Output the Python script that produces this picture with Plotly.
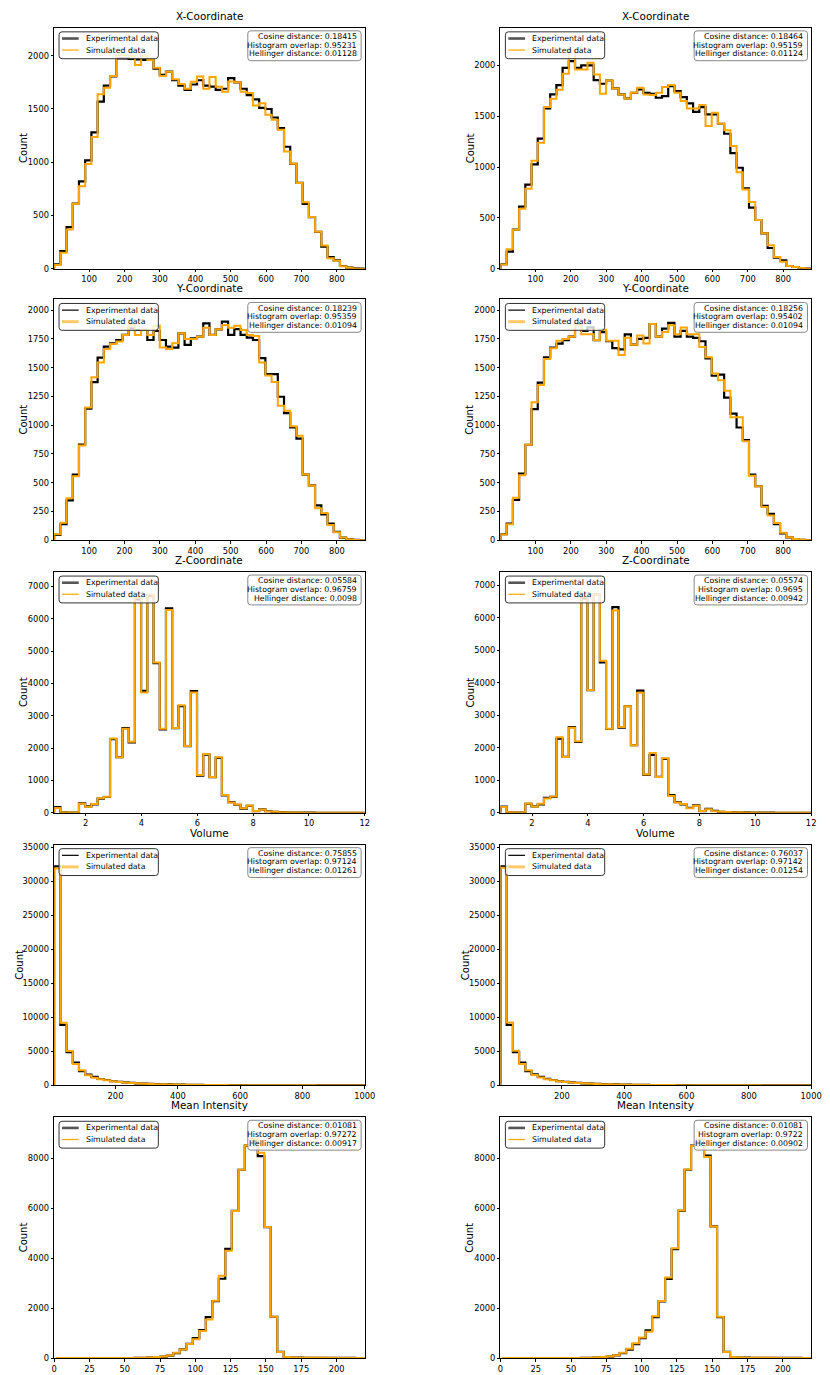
import numpy as np
import plotly.graph_objects as go
from plotly.subplots import make_subplots

# ---------------- data ----------------
FEATURES = ["X-Coordinate", "Y-Coordinate", "Z-Coordinate", "Volume", "Mean Intensity"]
SERIES = ["Experimental data", "Simulated data"]

# histogram bins (first edge, bin width); 50 bins per histogram
BIN_START = [1.0, 1.0, 0.87, 3.0, 1.6]
BIN_WIDTH = [17.56, 17.56, 0.2226, 19.94, 4.6]

# axis limits / ticks
X_RANGE = [[1, 879], [1, 879], [0.87, 12], [3, 1000], [0, 220]]
X_DTICK = [100, 100, 2, 200, 25]
Y_DTICK = [500, 250, 1000, 5000, 2000]
Y_TOP_LEFT = [2262, 2092, 7443, 35390, 9653]
Y_TOP_RIGHT = [2370, 2093, 7410, 35390, 9653]

# ---- left column counts ----
x_exp_left = [40, 165, 390, 612, 820, 1017, 1280, 1570, 1719, 1806, 1975, 1975, 1970, 1965, 1960, 1960, 1880,
              1820, 1850, 1770, 1720, 1680, 1730, 1770, 1720, 1710, 1680, 1690, 1790, 1750, 1690, 1630, 1590,
              1510, 1500, 1420, 1320, 1145, 985, 805, 608, 484, 346, 206, 109, 78, 25, 9, 2, 0]
x_sim_left = [35, 150, 368, 610, 775, 983, 1236, 1638, 1700, 1810, 2005, 2005, 2000, 1913, 2000, 1960, 1888,
              1810, 1850, 1780, 1735, 1690, 1755, 1805, 1690, 1800, 1710, 1663, 1757, 1750, 1663, 1650, 1532,
              1554, 1445, 1398, 1304, 1101, 986, 805, 624, 484, 346, 218, 97, 75, 22, 8, 2, 0]
y_exp_left = [46, 139, 346, 571, 831, 1143, 1374, 1587, 1683, 1711, 1740, 1784, 1841, 1827, 1827, 1740, 1818,
              1740, 1683, 1674, 1798, 1697, 1755, 1769, 1885, 1784, 1833, 1899, 1784, 1835, 1784, 1760, 1740,
              1582, 1443, 1443, 1247, 1105, 981, 883, 571, 476, 303, 225, 144, 72, 23, 9, 3, 0]
y_sim_left = [52, 153, 364, 557, 823, 1154, 1417, 1544, 1662, 1706, 1726, 1784, 1870, 1784, 1827, 1784, 1864,
              1674, 1662, 1711, 1798, 1749, 1749, 1769, 1847, 1784, 1833, 1870, 1847, 1864, 1827, 1784, 1775,
              1544, 1431, 1374, 1169, 1126, 990, 909, 571, 476, 277, 237, 133, 69, 23, 9, 3, 0]
z_exp_left = [180, 20, 10, 10, 290, 200, 260, 440, 490, 2280, 1720, 2620, 2180, 6600, 3770, 6720, 4630, 2580,
              6320, 2620, 3300, 2060, 3760, 1150, 1800, 1100, 1700, 540, 330, 250, 130, 220, 50, 110, 50, 30,
              20, 15, 10, 10, 5, 4, 3, 2, 2, 1, 1, 1, 0, 0]
z_sim_left = [150, 15, 10, 10, 280, 190, 270, 450, 500, 2300, 1720, 2600, 2200, 6650, 3720, 6750, 4650, 2600,
              6270, 2620, 3330, 2070, 3720, 1170, 1820, 1110, 1720, 550, 320, 260, 140, 230, 60, 100, 45, 35,
              20, 15, 10, 8, 5, 4, 3, 2, 2, 1, 1, 1, 0, 0]
vol_exp_left = [32200, 8900, 4900, 3350, 2100, 1600, 1250, 950, 800, 650, 530, 450, 380, 320, 270, 230, 200,
                170, 150, 130, 115, 100, 90, 80, 70, 62, 55, 50, 45, 40, 36, 33, 30, 27, 25, 23, 21, 19, 17,
                16, 15, 14, 13, 12, 11, 10, 9, 9, 8, 8]
vol_sim_left = [31900, 9200, 5050, 3150, 2250, 1500, 1150, 900, 780, 620, 520, 440, 370, 310, 260, 225, 195,
                168, 148, 128, 112, 98, 88, 78, 68, 60, 54, 49, 44, 40, 35, 32, 29, 27, 24, 22, 20, 18, 17,
                16, 14, 13, 12, 11, 10, 10, 9, 8, 8, 7]
mi_exp_left = [0, 0, 0, 0, 0, 0, 0, 0, 0, 0, 0, 2, 4, 10, 20, 40, 60, 100, 200, 350, 570, 800, 1120, 1640,
               2280, 3180, 4380, 5900, 7550, 8520, 8700, 8100, 5250, 1650, 250, 40, 20, 15, 12, 10, 10, 8, 8,
               6, 5, 4, 0, 0, 0, 0]
mi_sim_left = [0, 0, 0, 0, 0, 0, 0, 0, 0, 0, 0, 2, 5, 10, 22, 40, 65, 105, 210, 340, 560, 750, 1080, 1550,
               2300, 3300, 4300, 5900, 7550, 8520, 8780, 8230, 5250, 1660, 240, 40, 20, 15, 12, 10, 9, 8, 7,
               6, 5, 4, 0, 0, 0, 0]

# ---- right column counts ----
x_exp_right = [43, 167, 384, 610, 826, 1026, 1279, 1577, 1715, 1807, 1977, 2043, 1977, 2000, 2000, 1856, 1820,
               1852, 1774, 1715, 1675, 1731, 1764, 1731, 1721, 1682, 1698, 1797, 1748, 1689, 1626, 1544, 1590,
               1518, 1518, 1426, 1328, 1138, 993, 790, 600, 479, 348, 203, 108, 82, 26, 16, 6, 0]
x_sim_right = [40, 190, 384, 590, 787, 1062, 1239, 1590, 1672, 1760, 1918, 2141, 1960, 1960, 2026, 1911, 1721,
               1852, 1774, 1715, 1675, 1731, 1780, 1715, 1708, 1731, 1787, 1807, 1731, 1649, 1577, 1577, 1610,
               1403, 1534, 1426, 1361, 1207, 948, 780, 656, 479, 348, 230, 115, 69, 26, 16, 6, 0]
y_exp_right = [52, 145, 350, 580, 830, 1140, 1370, 1590, 1675, 1710, 1740, 1770, 1880, 1820, 1850, 1740, 1810,
               1730, 1670, 1660, 1790, 1700, 1750, 1760, 1880, 1770, 1840, 1890, 1770, 1820, 1770, 1760, 1730,
               1580, 1430, 1440, 1240, 1100, 980, 870, 570, 470, 300, 230, 140, 60, 25, 10, 4, 0]
y_sim_right = [50, 140, 370, 565, 830, 1200, 1350, 1575, 1670, 1735, 1750, 1770, 1870, 1790, 1790, 1740, 1830,
               1735, 1735, 1610, 1760, 1700, 1780, 1710, 1880, 1770, 1810, 1870, 1790, 1850, 1790, 1790, 1680,
               1590, 1450, 1390, 1300, 1070, 1070, 860, 560, 470, 290, 215, 150, 65, 25, 10, 4, 0]
z_exp_right = [190, 15, 10, 10, 280, 200, 260, 460, 490, 2280, 1720, 2640, 2180, 6600, 3780, 6720, 4630, 2580,
               6330, 2620, 3280, 2080, 3760, 1170, 1780, 1110, 1660, 550, 330, 260, 150, 230, 50, 120, 60, 30,
               25, 20, 15, 12, 8, 6, 5, 4, 3, 2, 1, 1, 0, 1]
z_sim_right = [180, 15, 10, 10, 290, 195, 280, 440, 500, 2330, 1720, 2620, 2200, 6650, 3780, 6720, 4680, 2590,
               6230, 2640, 3280, 2080, 3700, 1180, 1840, 1100, 1680, 520, 320, 270, 140, 220, 60, 110, 50, 30,
               25, 20, 15, 12, 8, 6, 5, 4, 3, 2, 1, 1, 0, 1]
vol_exp_right = [32200, 8900, 4900, 3350, 2100, 1620, 1250, 960, 800, 650, 530, 450, 380, 320, 270, 230, 200,
                 170, 150, 130, 115, 100, 90, 80, 70, 62, 55, 50, 45, 40, 36, 33, 30, 27, 25, 23, 21, 19, 17,
                 16, 15, 14, 13, 12, 11, 10, 9, 9, 8, 8]
vol_sim_right = [32000, 9250, 5100, 3150, 2250, 1520, 1180, 900, 770, 630, 520, 440, 370, 310, 260, 225, 195,
                 168, 148, 128, 112, 98, 88, 78, 68, 60, 54, 49, 44, 40, 35, 32, 29, 27, 24, 22, 20, 18, 17,
                 16, 14, 13, 12, 11, 10, 10, 9, 8, 8, 7]
mi_exp_right = [0, 0, 0, 0, 0, 0, 0, 0, 0, 0, 0, 2, 4, 10, 20, 40, 60, 110, 200, 340, 560, 800, 1110, 1640,
                2270, 3170, 4370, 5900, 7550, 8520, 8780, 8120, 5280, 1640, 250, 40, 20, 15, 12, 10, 10, 8, 8,
                6, 5, 4, 0, 0, 0, 0]
mi_sim_right = [0, 0, 0, 0, 0, 0, 0, 0, 0, 0, 0, 2, 5, 10, 22, 40, 60, 110, 210, 370, 590, 820, 1050, 1680,
                2290, 3230, 4400, 5920, 7560, 8500, 8800, 8060, 5270, 1660, 240, 40, 20, 15, 12, 10, 9, 8, 7,
                6, 5, 4, 0, 0, 0, 0]

# metrics per panel
cosine_left = ["0.18415", "0.18239", "0.05584", "0.75855", "0.01081"]
overlap_left = ["0.95231", "0.95359", "0.96759", "0.97124", "0.97272"]
hellinger_left = ["0.01128", "0.01094", "0.0098", "0.01261", "0.00917"]
cosine_right = ["0.18464", "0.18256", "0.05574", "0.76037", "0.01081"]
overlap_right = ["0.95159", "0.95402", "0.9695", "0.97142", "0.9722"]
hellinger_right = ["0.01124", "0.01094", "0.00942", "0.01254", "0.00902"]

EXP = [[x_exp_left, y_exp_left, z_exp_left, vol_exp_left, mi_exp_left],
       [x_exp_right, y_exp_right, z_exp_right, vol_exp_right, mi_exp_right]]
SIM = [[x_sim_left, y_sim_left, z_sim_left, vol_sim_left, mi_sim_left],
       [x_sim_right, y_sim_right, z_sim_right, vol_sim_right, mi_sim_right]]
COS = [cosine_left, cosine_right]
OVL = [overlap_left, overlap_right]
HEL = [hellinger_left, hellinger_right]
Y_TOP = [Y_TOP_LEFT, Y_TOP_RIGHT]

# ---------------- styles / geometry (px) ----------------
W, H = 830, 1375
COL_LEFT = [52, 506]
COL_W = 316
ROW_TOP = [26, 299, 573, 847, 1121]
ROW_H = 242
FONT = "DejaVu Sans"
ORANGE = "#FFA500"
# legend handle styles alternate by row (as in the original figure)
LEG_EXP = [("#555555", 2.6), ("black", 1.2), ("#555555", 2.6), ("black", 1.2), ("#555555", 2.6)]
LEG_SIM = [(ORANGE, 1.2), ("rgba(255,165,0,0.6)", 3), (ORANGE, 1.2), ("rgba(255,165,0,0.6)", 3), (ORANGE, 1.2)]


def px_x(p):
    return p / W


def px_y(p):
    return 1 - p / H


def rounded_box(x0, y0, x1, y1, r):
    xa, xb, ya, yb = px_x(x0), px_x(x1), px_y(y0), px_y(y1)
    rx, ry = r / W, r / H
    return (f"M {xa + rx},{ya} L {xb - rx},{ya} Q {xb},{ya} {xb},{ya - ry} "
            f"L {xb},{yb + ry} Q {xb},{yb} {xb - rx},{yb} L {xa + rx},{yb} "
            f"Q {xa},{yb} {xa},{yb + ry} L {xa},{ya - ry} Q {xa},{ya} {xa + rx},{ya} Z")


def steps(start, width, counts):
    counts = np.asarray(counts, dtype=float)
    edges = start + width * np.arange(len(counts) + 1)
    xs = np.concatenate([[edges[0]], edges[:-1], [edges[-1]]])
    ys = np.concatenate([[0.0], counts, [0.0]])
    return xs, ys


fig = make_subplots(rows=5, cols=2)
annotations = []
shapes = []
small = dict(family=FONT, size=7.8, color="black")

for r in range(5):
    for c in range(2):
        xe, ye = steps(BIN_START[r], BIN_WIDTH[r], EXP[c][r])
        xsim, ysim = steps(BIN_START[r], BIN_WIDTH[r], SIM[c][r])
        fig.add_trace(go.Scatter(x=xe, y=ye, mode="lines", name=SERIES[0],
                                 line=dict(color="black", width=2.2, shape="hv"),
                                 hoverinfo="skip"), row=r + 1, col=c + 1)
        fig.add_trace(go.Scatter(x=xsim, y=ysim, mode="lines", name=SERIES[1],
                                 line=dict(color=ORANGE, width=2, shape="hv"),
                                 hoverinfo="skip"), row=r + 1, col=c + 1)

        left = COL_LEFT[c]
        right = left + COL_W
        top = ROW_TOP[r]
        fig.update_xaxes(domain=[px_x(left), px_x(right)], range=X_RANGE[r],
                         dtick=X_DTICK[r], tick0=0, row=r + 1, col=c + 1)
        fig.update_yaxes(domain=[px_y(top + ROW_H), px_y(top)], range=[0, Y_TOP[c][r]],
                         dtick=Y_DTICK[r], tick0=0, row=r + 1, col=c + 1)

        # legend (box, handles, labels)
        shapes.append(dict(type="path", xref="paper", yref="paper",
                           path=rounded_box(left + 5, top + 4, left + 106, top + 31, 3),
                           fillcolor="rgba(255,255,255,0.8)", line=dict(color="#333333", width=1)))
        for k, (col, wid) in enumerate([LEG_EXP[r], LEG_SIM[r]]):
            yy = px_y(top + 10.7 + 11.6 * k)
            shapes.append(dict(type="line", xref="paper", yref="paper",
                               x0=px_x(left + 8), x1=px_x(left + 25), y0=yy, y1=yy,
                               line=dict(color=col, width=wid)))
            annotations.append(dict(x=px_x(left + 30), y=yy, xref="paper", yref="paper",
                                    text=SERIES[k], showarrow=False, xanchor="left",
                                    yanchor="middle", font=small))

        # metrics box
        shapes.append(dict(type="path", xref="paper", yref="paper",
                           path=rounded_box(right - 119, top + 3, right - 3.7, top + 33, 3),
                           fillcolor="rgba(255,255,255,0.8)", line=dict(color="#888888", width=1)))
        lines = [f"Cosine distance: {COS[c][r]}", f"Histogram overlap: {OVL[c][r]}",
                 f"Hellinger distance: {HEL[c][r]}"]
        for k, t in enumerate(lines):
            annotations.append(dict(x=px_x(right - 6.3), y=px_y(top + 8.7 + 8.7 * k),
                                    xref="paper", yref="paper", text=t, showarrow=False,
                                    xanchor="right", yanchor="middle", font=small))

        # subplot title
        annotations.append(dict(x=px_x(left + COL_W / 2), y=px_y(top - 12), xref="paper", yref="paper",
                                text=FEATURES[r], showarrow=False, xanchor="center", yanchor="middle",
                                font=dict(family=FONT, size=10.4, color="black")))
        # y label
        off = 36 if r == 3 else 31
        annotations.append(dict(x=px_x(left - off), y=px_y(top + ROW_H / 2), xref="paper", yref="paper",
                                text="Count", showarrow=False, textangle=-90, xanchor="center",
                                yanchor="middle", font=dict(family=FONT, size=10, color="black")))

axis_style = dict(showline=True, linecolor="black", linewidth=1, mirror=True, ticks="outside",
                  ticklen=2.5, tickwidth=1, tickcolor="black", showgrid=False, zeroline=False,
                  tickformat="d", tickfont=dict(family=FONT, size=8.3, color="black"))
fig.update_xaxes(**axis_style)
fig.update_yaxes(**axis_style)

fig.update_layout(width=W, height=H, autosize=False, margin=dict(l=0, r=0, t=0, b=0),
                  paper_bgcolor="white", plot_bgcolor="white", showlegend=False,
                  font=dict(family=FONT, color="black"), annotations=annotations, shapes=shapes)

fig.write_html("out.html")
